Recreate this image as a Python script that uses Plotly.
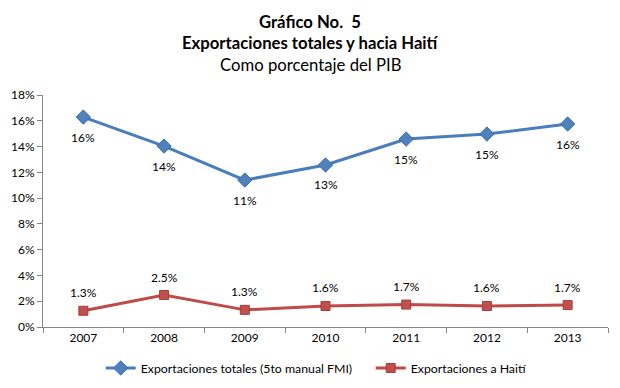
import plotly.graph_objects as go

years = ["2007", "2008", "2009", "2010", "2011", "2012", "2013"]
total_exports = [16.29, 14.04, 11.40, 12.57, 14.58, 14.97, 15.75]
haiti_exports = [1.26, 2.48, 1.33, 1.63, 1.74, 1.63, 1.70]
y_ticks = [0, 2, 4, 6, 8, 10, 12, 14, 16, 18]
y_tick_labels = [f"{v}%" for v in y_ticks]

FONT = "Lato"
BLUE = "#4A7EBB"
RED = "#BE4B48"
fig = go.Figure()
fig.add_trace(go.Scatter(
    x=years, y=total_exports, name="Exportaciones totales (5to manual FMI)",
    mode="lines+markers", line=dict(color=BLUE, width=3),
    marker=dict(symbol="diamond", size=11, color="#4F81BD", line=dict(color="#3D6CA8", width=1)),
))
fig.add_trace(go.Scatter(
    x=years, y=haiti_exports, name="Exportaciones a Haití",
    mode="lines+markers", line=dict(color=RED, width=3),
    marker=dict(symbol="square", size=9, color="#C0504D", line=dict(color="#A33E3B", width=1)),
))

# data labels: positioned on the category axis by category index
annotations = []
for i, v in enumerate(total_exports):
    annotations.append(dict(x=i, y=v, xref="x", yref="y", text=f"{v:.0f}%", showarrow=False,
                            yshift=-20, font=dict(family=FONT, size=12, color="#000000")))
for i, v in enumerate(haiti_exports):
    annotations.append(dict(x=i, y=v, xref="x", yref="y", text=f"{v:.1f}%", showarrow=False,
                            yshift=18, font=dict(family=FONT, size=12, color="#000000")))

title_lines = [("<b>Gráfico No.  5</b>", 1.315), ("<b>Exportaciones totales y hacia Haití</b>", 1.222),
               ("Como porcentaje del PIB", 1.128)]
for t, yy in title_lines:
    annotations.append(dict(text=t, x=0.473, xref="paper", y=yy, yref="paper", xanchor="center",
                            yanchor="middle", showarrow=False,
                            font=dict(family=FONT, size=16.7, color="#000000")))

# page body has an 8px default margin, so the figure is sized/offset to compensate
fig.update_layout(
    width=612, height=380,
    paper_bgcolor="white", plot_bgcolor="white",
    margin=dict(l=35, r=12, t=87, b=61, autoexpand=False),
    font=dict(family=FONT, size=12, color="#000000"),
    annotations=annotations,
    showlegend=True,
    legend=dict(orientation="h", x=0.58, xanchor="center", yref="container", y=0.0526,
                yanchor="middle", font=dict(family=FONT, size=12.3), tracegroupgap=0,
                entrywidth=225),
    xaxis=dict(type="category", range=[-0.5, len(years) - 0.5], showgrid=False, showline=True,
               linecolor="#868686", ticks="outside", tickson="boundaries", ticklen=5,
               tickcolor="#868686", tickfont=dict(family=FONT, size=12)),
    yaxis=dict(range=[0, 18], tickvals=y_ticks, ticktext=y_tick_labels, showgrid=False,
               showline=True, linecolor="#868686", ticks="outside", ticklen=5,
               tickcolor="#868686", zeroline=False, tickfont=dict(family=FONT, size=12)),
)

fig.write_html("out.html")
